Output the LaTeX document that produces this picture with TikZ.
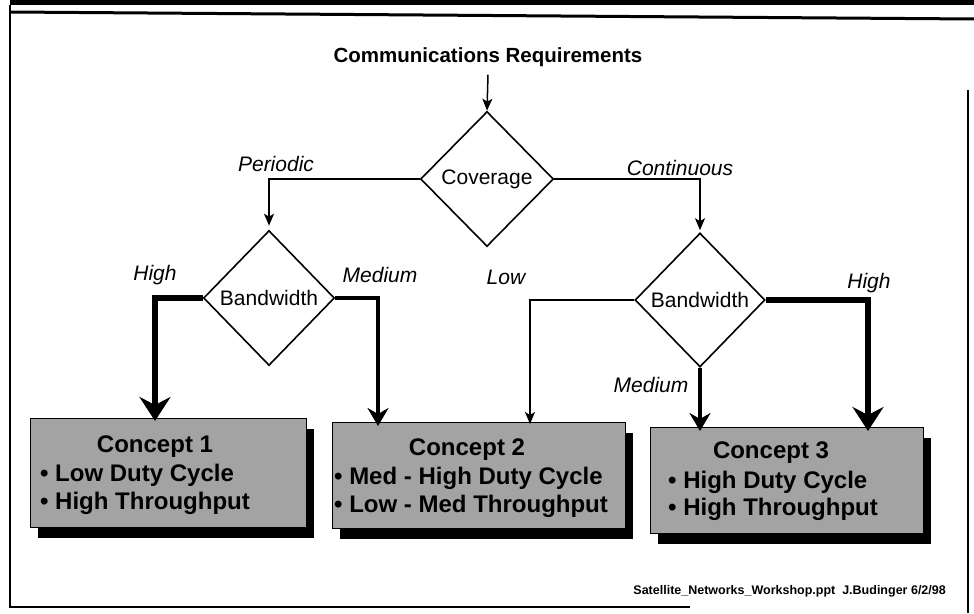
\documentclass[tikz,border=0pt]{standalone}
\usepackage{fontspec}
\setmainfont{Liberation Sans}
\usetikzlibrary{shapes.geometric,arrows.meta,shadows}
\tikzset{
  decision/.style={diamond, draw, line width=1.6pt, inner sep=0pt, font=\fontsize{21}{24}\selectfont},
  branchlabel/.style={font=\fontsize{21}{24}\selectfont\itshape, inner sep=0pt},
  thinarrow/.style={line width=1.5pt, -{Stealth[length=12pt,width=10pt,inset=3pt]}},
  midarrow/.style={line width=4pt, -{Stealth[length=18pt,width=21pt,inset=6pt]}},
  thickarrow/.style={line width=6pt, -{Stealth[length=24pt,width=31pt,inset=8pt]}},
  conceptbox/.style={draw, line width=1pt, fill=black!36, anchor=north west, inner sep=0pt,
    drop shadow={shadow xshift=7pt, shadow yshift=-10pt, fill=black, opacity=1}},
  concepttext/.style={font=\fontsize{24}{28}\selectfont\bfseries, inner sep=0pt},
  bullettext/.style={concepttext, anchor=west}
}
\begin{document}
\begin{tikzpicture}[x=1pt,y=-1pt]
\useasboundingbox (0,0) rectangle (974,613);
% frame
\fill (10,0) rectangle (974,5);
\draw[line width=3pt] (10,12) -- (974,19);
\draw[line width=2pt] (10,5) -- (10,607) -- (690,607);
\draw[line width=2pt] (968,90) -- (968,613);

% title
\node[font=\fontsize{20.5}{24}\selectfont\bfseries, inner sep=0pt] (title) at (488,57) {Communications Requirements};

% decisions
\node[decision, minimum width=133pt, minimum height=135pt] (cov) at (487,179) {Coverage};
\node[decision, minimum width=131pt, minimum height=135pt] (bw1) at (269,298) {Bandwidth};
\node[decision, minimum width=130pt, minimum height=134pt] (bw2) at (700,300) {Bandwidth};

% concept boxes
\node[conceptbox, minimum width=276pt, minimum height=109pt] (c1) at (30,418) {};
\node[conceptbox, minimum width=293pt, minimum height=106pt] (c2) at (332,422) {};
\node[conceptbox, minimum width=273pt, minimum height=106pt] (c3) at (650,427) {};

\node[concepttext] (c1h) at (155,447) {Concept 1};
\node[bullettext] (c1a) at (40,475) {• Low Duty Cycle};
\node[bullettext] (c1b) at (40,503) {• High Throughput};

\node[concepttext] (c2h) at (467,450) {Concept 2};
\node[bullettext] (c2a) at (334,478) {• Med - High Duty Cycle};
\node[bullettext] (c2b) at (334,506) {• Low - Med Throughput};

\node[concepttext] (c3h) at (771,453) {Concept 3};
\node[bullettext] (c3a) at (668,482) {• High Duty Cycle};
\node[bullettext] (c3b) at (668,509) {• High Throughput};

% connectors
\draw[thinarrow] ([yshift=-8pt]title.south) -- (cov.north);
\draw[thinarrow, shorten >=4pt] (cov.west) -| (bw1.north);
\draw[thinarrow, shorten >=2pt] (cov.east) -| (bw2.north);
\draw[thickarrow] (bw1.west) -| ([xshift=125pt,yshift=-3pt]c1.north west);
\draw[midarrow] (bw1.east) -| ([xshift=46pt,yshift=-4pt]c2.north west);
\draw[thinarrow] (bw2.west) -| ([xshift=198pt,yshift=-2pt]c2.north west);
\draw[midarrow] (bw2.south) -- ([yshift=-4pt]bw2.south |- c3.north);
\draw[thickarrow] (bw2.east) -| ([xshift=218pt,yshift=-4pt]c3.north west);

% labels
\node[branchlabel] (lper) at (276,164) {Periodic};
\node[branchlabel] (lcon) at (680,168) {Continuous};
\node[branchlabel] (lhi1) at (155,275) {High};
\node[branchlabel] (lmed1) at (380,275) {Medium};
\node[branchlabel] (llow) at (506,277) {Low};
\node[branchlabel] (lmed2) at (651,385) {Medium};
\node[branchlabel] (lhi2) at (869,283) {High};

% footer
\node[font=\fontsize{12.5}{14}\selectfont\bfseries, anchor=east, inner sep=0pt] (foot) at (946,591) {Satellite\_Networks\_Workshop.ppt\ \ J.Budinger 6/2/98};
\end{tikzpicture}
\end{document}
